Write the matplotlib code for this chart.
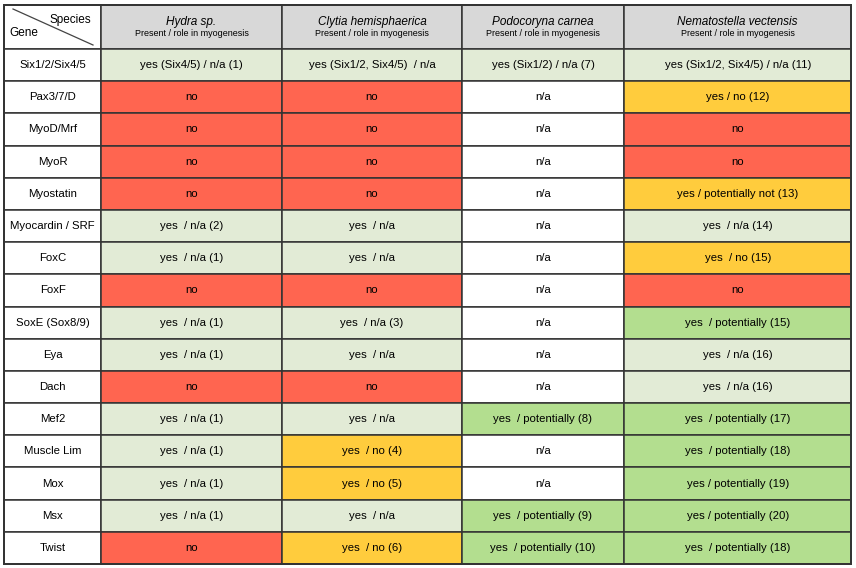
import matplotlib
matplotlib.use("Agg")
import matplotlib.pyplot as plt
from matplotlib.patches import Rectangle

plt.rcParams['font.family'] = ['Liberation Sans', 'DejaVu Sans']

# ----- data -----
genes = ["Six1/2/Six4/5", "Pax3/7/D", "MyoD/Mrf", "MyoR", "Myostatin",
         "Myocardin / SRF", "FoxC", "FoxF", "SoxE (Sox8/9)", "Eya", "Dach",
         "Mef2", "Muscle Lim", "Mox", "Msx", "Twist"]

species = ["Hydra sp.", "Clytia hemisphaerica", "Podocoryna carnea",
           "Nematostella vectensis"]
subtitle = "Present / role in myogenesis"

hydra = ["yes (Six4/5) / n/a (1)", "no", "no", "no", "no", "yes  / n/a (2)",
         "yes  / n/a (1)", "no", "yes  / n/a (1)", "yes  / n/a (1)", "no",
         "yes  / n/a (1)", "yes  / n/a (1)", "yes  / n/a (1)", "yes  / n/a (1)", "no"]
hydra_cls = ["L", "R", "R", "R", "R", "L", "L", "R", "L", "L", "R",
             "L", "L", "L", "L", "R"]

clytia = ["yes (Six1/2, Six4/5)  / n/a", "no", "no", "no", "no", "yes  / n/a",
          "yes  / n/a", "no", "yes  / n/a (3)", "yes  / n/a", "no",
          "yes  / n/a", "yes  / no (4)", "yes  / no (5)", "yes  / n/a", "yes  / no (6)"]
clytia_cls = ["L", "R", "R", "R", "R", "L", "L", "R", "L", "L", "R",
              "L", "Y", "Y", "L", "Y"]

podo = ["yes (Six1/2) / n/a (7)", "n/a", "n/a", "n/a", "n/a", "n/a", "n/a",
        "n/a", "n/a", "n/a", "n/a", "yes  / potentially (8)", "n/a", "n/a",
        "yes  / potentially (9)", "yes  / potentially (10)"]
podo_cls = ["L", "W", "W", "W", "W", "W", "W", "W", "W", "W", "W",
            "G", "W", "W", "G", "G"]

nema = ["yes (Six1/2, Six4/5) / n/a (11)", "yes / no (12)", "no", "no",
        "yes / potentially not (13)", "yes  / n/a (14)", "yes  / no (15)", "no",
        "yes  / potentially (15)", "yes  / n/a (16)", "yes  / n/a (16)",
        "yes  / potentially (17)", "yes  / potentially (18)",
        "yes / potentially (19)", "yes / potentially (20)",
        "yes  / potentially (18)"]
nema_cls = ["L", "Y", "R", "R", "Y", "L", "Y", "R", "G", "L", "L",
            "G", "G", "G", "G", "G"]

columns = [(hydra, hydra_cls), (clytia, clytia_cls), (podo, podo_cls),
           (nema, nema_cls)]

colors = {"L": "#e2ebd6", "R": "#ff6550", "Y": "#ffcc3d", "G": "#b3de8f",
          "W": "#ffffff"}
header_color = "#d8d8d8"
line_color = "#333333"

# ----- layout (pixel space) -----
col_edges = [4.5, 101, 282, 462, 624, 851.5]
top, head_bottom, bottom = 4.5, 49, 564
row_h = (bottom - head_bottom) / len(genes)

fig = plt.figure(figsize=(8.56, 5.68), dpi=100)
ax = fig.add_axes([0, 0, 1, 1])
ax.set_xlim(0, 856)
ax.set_ylim(568, 0)
ax.axis("off")

# header row
ax.add_patch(Rectangle((col_edges[0], top), col_edges[1] - col_edges[0],
                       head_bottom - top, facecolor="white",
                       edgecolor=line_color, lw=1.1))
ax.plot([13, 93], [9, 45], color="#444444", lw=0.9)
ax.text(50, 20, "Species", fontsize=8.5, ha="left", va="center")
ax.text(9, 33, "Gene", fontsize=8.5, ha="left", va="center")

for j, sp in enumerate(species):
    x0, x1 = col_edges[j + 1], col_edges[j + 2]
    ax.add_patch(Rectangle((x0, top), x1 - x0, head_bottom - top,
                           facecolor=header_color, edgecolor=line_color, lw=1.1))
    xc = (x0 + x1) / 2
    ax.text(xc, 22, sp, fontsize=8.5, style="italic", ha="center", va="center")
    ax.text(xc, 33, subtitle, fontsize=6.5, ha="center", va="center")

# body rows
for i, g in enumerate(genes):
    y0 = head_bottom + i * row_h
    yc = y0 + row_h / 2
    ax.add_patch(Rectangle((col_edges[0], y0), col_edges[1] - col_edges[0],
                           row_h, facecolor="white", edgecolor=line_color, lw=1.1))
    ax.text((col_edges[0] + col_edges[1]) / 2, yc, g, fontsize=8.2,
            ha="center", va="center")
    for j, (vals, cls) in enumerate(columns):
        x0, x1 = col_edges[j + 1], col_edges[j + 2]
        ax.add_patch(Rectangle((x0, y0), x1 - x0, row_h,
                               facecolor=colors[cls[i]], edgecolor=line_color,
                               lw=1.1))
        ax.text((x0 + x1) / 2, yc, vals[i], fontsize=8.2, ha="center",
                va="center")

# outer frame
ax.add_patch(Rectangle((col_edges[0], top), col_edges[-1] - col_edges[0],
                       bottom - top, facecolor="none", edgecolor=line_color,
                       lw=1.4))

fig.savefig("out.png", dpi=100)
